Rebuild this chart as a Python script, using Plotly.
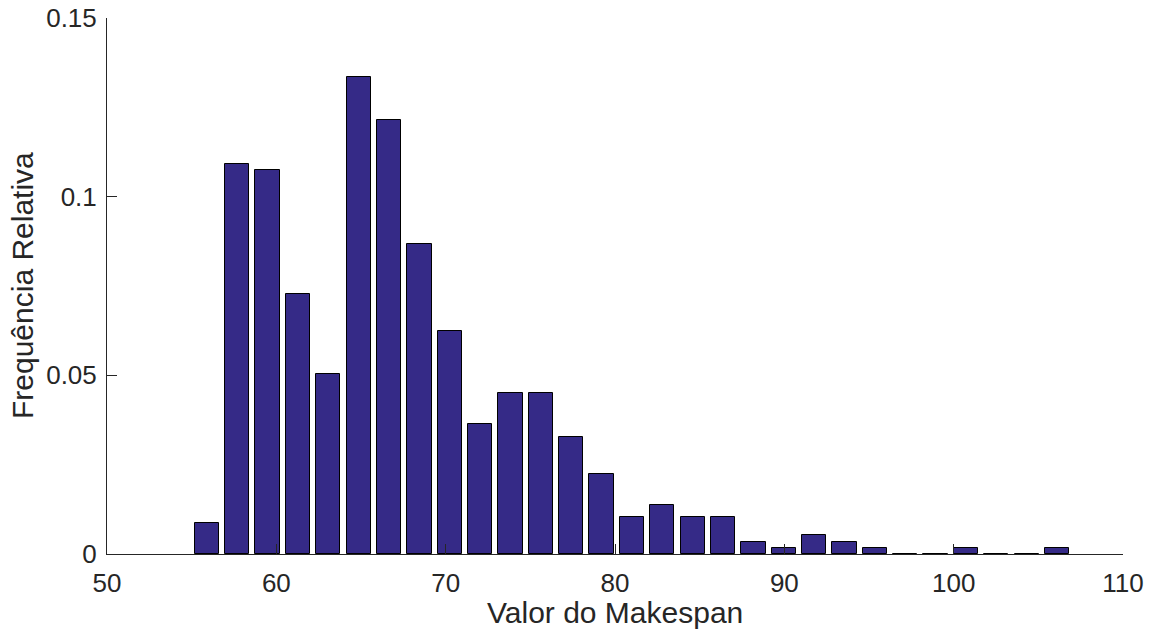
import plotly.graph_objects as go

# Histogram bins: 29 bins between 55 and 107
bin_min = 55.0
bin_max = 107.0
n_bins = 29
bin_w = (bin_max - bin_min) / n_bins
centers = [bin_min + bin_w * (i + 0.5) for i in range(n_bins)]

rel_freq = [
    0.0086, 0.1092, 0.1076, 0.0728, 0.0503, 0.1336, 0.1214, 0.0867, 0.0623, 0.0363,
    0.0451, 0.0451, 0.0328, 0.0225, 0.0104, 0.0138, 0.0104, 0.0104, 0.0034, 0.0017,
    0.0052, 0.0034, 0.0017, 0.0, 0.0, 0.0017, 0.0, 0.0, 0.0017,
]

x_ticks = [50, 60, 70, 80, 90, 100, 110]
y_ticks = [0, 0.05, 0.1, 0.15]
y_tick_text = ["0", "0.05", "0.1", "0.15"]

x_label = "Valor do Makespan"
y_label = "Frequência Relativa"

TXT = "#262626"
FONT = "Liberation Sans, Arial, Helvetica, sans-serif"

fig = go.Figure()
fig.add_trace(go.Bar(
    x=centers, y=rel_freq, width=bin_w * 0.8,
    marker=dict(color="#352A87", line=dict(color="#000000", width=1)),
    showlegend=False,
))

fig.update_layout(
    width=1154, height=639,
    margin=dict(l=107, r=31, t=18, b=85, autoexpand=False),
    paper_bgcolor="white", plot_bgcolor="white",
    font=dict(family=FONT, color=TXT, size=26),
    bargap=0,
    xaxis=dict(
        range=[50, 110], tickvals=x_ticks, ticks="inside", ticklen=10,
        tickcolor=TXT, tickwidth=1, showline=True, linecolor=TXT, linewidth=1,
        showgrid=False, zeroline=False, mirror=False, automargin=False,
        tickfont=dict(size=26, color=TXT), ticklabelstandoff=6,
    ),
    yaxis=dict(
        range=[0, 0.15], tickvals=y_ticks, ticktext=y_tick_text, ticks="inside",
        ticklen=10, tickcolor=TXT, tickwidth=1, showline=True, linecolor=TXT,
        linewidth=1, showgrid=False, zeroline=False, mirror=False, automargin=False,
        tickfont=dict(size=26, color=TXT), ticklabelstandoff=4,
    ),
    annotations=[
        dict(text=x_label, xref="paper", yref="paper", x=0.5, y=0,
             yshift=-58, xanchor="center", yanchor="middle", showarrow=False,
             font=dict(size=30, color=TXT)),
        dict(text=y_label, xref="paper", yref="paper", x=0, y=0.5,
             xshift=-85, xanchor="center", yanchor="middle", showarrow=False,
             textangle=-90, font=dict(size=30, color=TXT)),
    ],
)

fig.write_html("out.html")
